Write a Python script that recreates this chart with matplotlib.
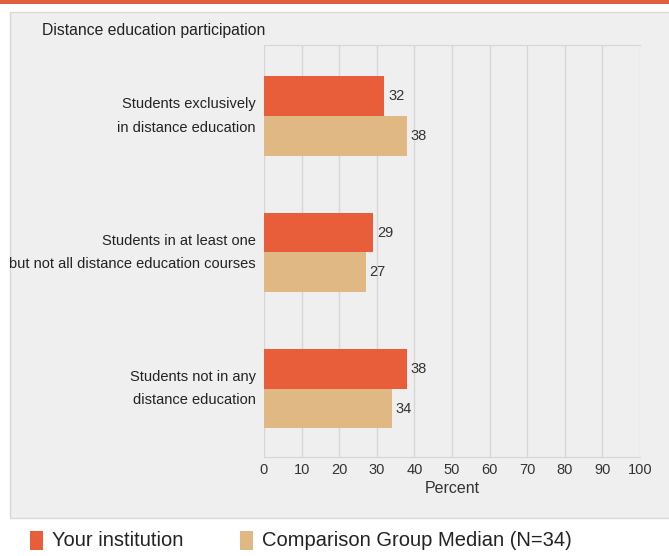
import matplotlib
matplotlib.use("Agg")
from matplotlib import pyplot as plt
from matplotlib.patches import Rectangle
import numpy as np

plt.rcParams['font.family'] = ['Liberation Sans Narrow', 'Liberation Sans', 'DejaVu Sans']

# data
categories = ["Students exclusively\nin distance education",
              "Students in at least one\nbut not all distance education courses",
              "Students not in any\ndistance education"]
your_inst = [32, 29, 38]
comparison = [38, 27, 34]
series_names = ["Your institution", "Comparison Group Median (N=34)"]
xticks = [0, 10, 20, 30, 40, 50, 60, 70, 80, 90, 100]

red = "#e85d3a"
tan = "#dfb883"
panel = "#efefef"
grid = "#d6d6d6"

fig = plt.figure(figsize=(6.69, 5.56), dpi=100)
fig.patch.set_facecolor("white")

# top strip and grey panel
fig.add_artist(Rectangle((0, 1 - 4 / 556), 1, 4 / 556, transform=fig.transFigure,
                         color="#e0603f", lw=0, zorder=-10))
fig.add_artist(Rectangle((10 / 669, 1 - 518 / 556), 1, (518 - 12) / 556,
                         transform=fig.transFigure, facecolor=panel,
                         edgecolor="#d8d8d8", lw=1, zorder=-10))

ax = fig.add_axes([264 / 669, 1 - 457 / 556, (640 - 264) / 669, (457 - 45) / 556])
ax.set_facecolor(panel)

y = np.arange(len(categories))
h = 0.29
ax.barh(y - h / 2, your_inst, height=h, color=red, zorder=3)
ax.barh(y + h / 2, comparison, height=h, color=tan, zorder=3)

for yi, v in zip(y, your_inst):
    ax.text(v + 1.0, yi - h / 2, str(v), va="center", ha="left", fontsize=10.5, color="#333333")
for yi, v in zip(y, comparison):
    ax.text(v + 1.0, yi + h / 2, str(v), va="center", ha="left", fontsize=10.5, color="#333333")

ax.set_xlim(0, 100)
ax.set_ylim(2.5, -0.52)
ax.set_xticks(xticks)
ax.set_xticklabels([str(t) for t in xticks], fontsize=10.5, color="#333333")
ax.set_yticks(y)
ax.set_yticklabels(categories, fontsize=10.5, color="#222222", linespacing=1.85, va="center")
ax.tick_params(axis="x", length=0, pad=4)
ax.tick_params(axis="y", length=0, pad=6)
ax.xaxis.grid(True, color=grid, lw=1, zorder=0)
for s in ["left", "right"]:
    ax.spines[s].set_visible(False)
for s in ["top", "bottom"]:
    ax.spines[s].set_color(grid)
ax.set_xlabel("Percent", fontsize=11.5, color="#333333", labelpad=3)

fig.text(42 / 669, 1 - 31 / 556, "Distance education participation", fontsize=11.3,
         color="#222222", va="center")

# legend
fig.add_artist(Rectangle((30 / 669, 1 - 550 / 556), 13 / 669, 19 / 556,
                         transform=fig.transFigure, color=red, lw=0))
fig.text(52 / 669, 1 - 541 / 556, series_names[0], fontsize=14.5, color="#222222", va="center")
fig.add_artist(Rectangle((240 / 669, 1 - 550 / 556), 13 / 669, 19 / 556,
                         transform=fig.transFigure, color=tan, lw=0))
fig.text(262 / 669, 1 - 541 / 556, series_names[1], fontsize=14.5, color="#222222", va="center")

fig.savefig("out.png", dpi=100)
